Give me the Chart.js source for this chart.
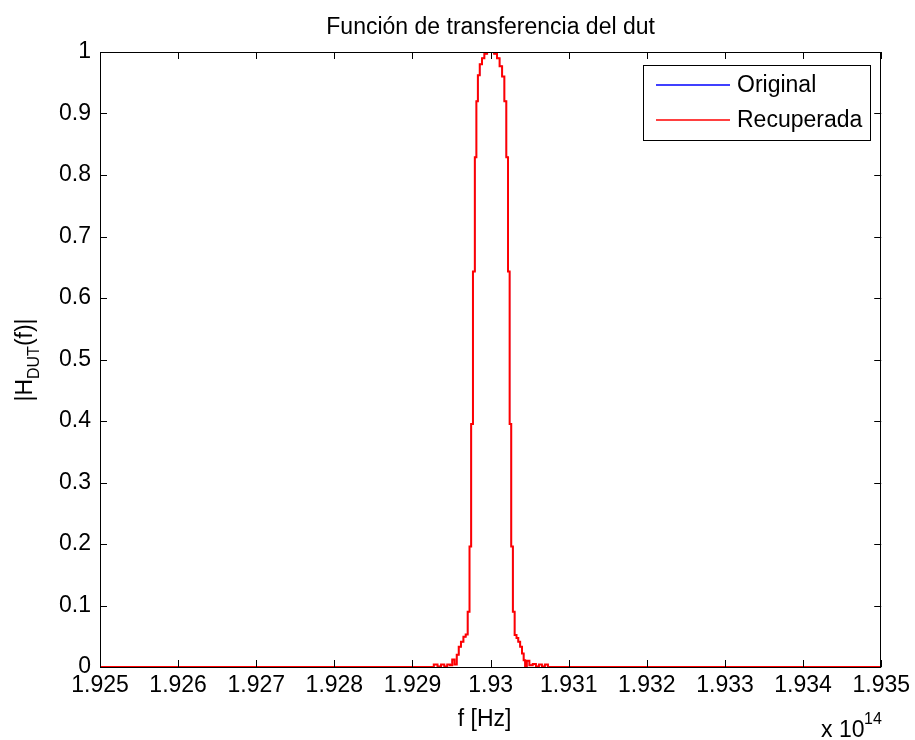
<!DOCTYPE html>
<html>
<head>
<meta charset="utf-8">
<script src="https://cdn.jsdelivr.net/npm/chart.js@4.4.1/dist/chart.umd.min.js"></script>
<style>
  html, body { margin: 0; padding: 0; background: #fff; }
  #wrap { width: 915px; height: 740px; }
</style>
</head>
<body>
<div id="wrap"><canvas id="c" width="915" height="740"></canvas></div>
<script>
// Frequency axis in units of 1e14 Hz
const freq = [
  1.925, 1.929247, 1.929298, 1.929343, 1.929388, 1.929426, 1.929464, 1.929496,
  1.929522, 1.929554, 1.929579, 1.929605, 1.929636, 1.929668, 1.929694, 1.929719,
  1.929741, 1.929761, 1.929787, 1.929809, 1.929827, 1.929847, 1.929875, 1.929904,
  1.929936, 1.929974, 1.930026, 1.930064, 1.930099, 1.930131, 1.930163, 1.930189,
  1.930213, 1.930233, 1.930254, 1.930274, 1.930296, 1.930319, 1.930344, 1.930364,
  1.930392, 1.930412, 1.930434, 1.930450, 1.930476, 1.930517, 1.930561, 1.930599,
  1.930638, 1.930676, 1.930714, 1.930753, 1.935
];

// |H_DUT(f)| of the reference device
const original = [
  0, 0, 0.004, 0.001, 0.004, 0.001, 0.004, 0.003,
  0.012, 0.004, 0.020, 0.033, 0.041, 0.049, 0.053, 0.090,
  0.196, 0.395, 0.643, 0.829, 0.920, 0.962, 0.980, 0.990,
  0.997, 1.000, 1.000, 0.997, 0.990, 0.977, 0.960, 0.920,
  0.829, 0.643, 0.395, 0.196, 0.090, 0.052, 0.047, 0.041,
  0.033, 0.022, 0.011, 0, 0.010, 0.003, 0.005, 0.001,
  0.004, 0.001, 0.004, 0, 0
];

// |H_DUT(f)| recovered from the measurement
const recuperada = [
  0, 0, 0.004, 0.001, 0.004, 0.001, 0.004, 0.003,
  0.012, 0.004, 0.020, 0.033, 0.041, 0.049, 0.053, 0.090,
  0.196, 0.395, 0.643, 0.829, 0.920, 0.962, 0.980, 0.990,
  0.997, 1.000, 1.000, 0.997, 0.990, 0.977, 0.960, 0.920,
  0.829, 0.643, 0.395, 0.196, 0.090, 0.052, 0.047, 0.041,
  0.033, 0.022, 0.011, 0, 0.010, 0.003, 0.005, 0.001,
  0.004, 0.001, 0.004, 0, 0
];

const xTicks = [1.925, 1.926, 1.927, 1.928, 1.929, 1.93, 1.931, 1.932, 1.933, 1.934, 1.935];
const xTickLabels = ['1.925', '1.926', '1.927', '1.928', '1.929', '1.93', '1.931', '1.932', '1.933', '1.934', '1.935'];
const yTicks = [0, 0.1, 0.2, 0.3, 0.4, 0.5, 0.6, 0.7, 0.8, 0.9, 1];
const yTickLabels = ['0', '0.1', '0.2', '0.3', '0.4', '0.5', '0.6', '0.7', '0.8', '0.9', '1'];

const seriesNames = ['Original', 'Recuperada'];
const seriesColors = ['#0000ff', '#ff0000'];

const FONT = '"Liberation Sans", Arial, Helvetica, sans-serif';
const FS = 23;
const FS_SMALL = 16;

function pts(ys) { return freq.map((f, i) => ({ x: f, y: ys[i] })); }

// Box, inward tick marks, title, axis labels and legend
const matlabFrame = {
  id: 'matlabFrame',
  afterDatasetsDraw(chart) {
    const { ctx, chartArea: a, scales } = chart;
    const xs = scales.x, ys = scales.y;
    ctx.save();
    ctx.strokeStyle = '#000';
    ctx.lineWidth = 1;
    ctx.strokeRect(Math.round(a.left) + 0.5, Math.round(a.top) + 0.5,
                   Math.round(a.right - a.left) - 1, Math.round(a.bottom - a.top));
    const tl = 7;
    ctx.beginPath();
    xTicks.forEach(v => {
      const px = Math.round(xs.getPixelForValue(v)) + 0.5;
      ctx.moveTo(px, a.bottom); ctx.lineTo(px, a.bottom - tl);
      ctx.moveTo(px, a.top); ctx.lineTo(px, a.top + tl);
    });
    yTicks.forEach(v => {
      const py = Math.round(ys.getPixelForValue(v)) + 0.5;
      ctx.moveTo(a.left, py); ctx.lineTo(a.left + tl, py);
      ctx.moveTo(a.right, py); ctx.lineTo(a.right - tl, py);
    });
    ctx.stroke();

    ctx.fillStyle = '#000';
    ctx.font = FS + 'px ' + FONT;
    ctx.textBaseline = 'middle';

    // title
    ctx.textAlign = 'center';
    ctx.fillText('Función de transferencia del dut', (a.left + a.right) / 2, 28);

    // x label
    ctx.fillText('f [Hz]', (a.left + a.right) / 2 - 6, 720);

    // exponent
    ctx.textAlign = 'left';
    ctx.fillText('x 10', 821, 731);
    ctx.font = FS_SMALL + 'px ' + FONT;
    ctx.fillText('14', 864, 720);

    // y label: |H_DUT(f)|
    ctx.save();
    ctx.translate(26, 360);
    ctx.rotate(-Math.PI / 2);
    const p1 = '|H', sub = 'DUT', p2 = '(f)|';
    ctx.font = FS + 'px ' + FONT;
    const w1 = ctx.measureText(p1).width, w3 = ctx.measureText(p2).width;
    ctx.font = FS_SMALL + 'px ' + FONT;
    const w2 = ctx.measureText(sub).width;
    const x0 = -(w1 + w2 + w3) / 2;
    ctx.textAlign = 'left';
    ctx.font = FS + 'px ' + FONT;
    ctx.fillText(p1, x0, 0);
    ctx.font = FS_SMALL + 'px ' + FONT;
    ctx.fillText(sub, x0 + w1, 9);
    ctx.font = FS + 'px ' + FONT;
    ctx.fillText(p2, x0 + w1 + w2, 0);
    ctx.restore();

    // legend
    const lx = 643.5, ly = 65.5, lw = 227, lh = 75;
    ctx.fillStyle = '#fff';
    ctx.fillRect(lx, ly, lw, lh);
    ctx.strokeStyle = '#000';
    ctx.lineWidth = 1;
    ctx.strokeRect(lx, ly, lw, lh);
    const rows = [85, 120];
    ctx.font = FS + 'px ' + FONT;
    ctx.textAlign = 'left';
    ctx.textBaseline = 'middle';
    seriesNames.forEach((name, i) => {
      ctx.strokeStyle = seriesColors[i];
      ctx.lineWidth = 1.5;
      ctx.beginPath();
      ctx.moveTo(656, rows[i]); ctx.lineTo(730, rows[i]);
      ctx.stroke();
      ctx.fillStyle = '#000';
      ctx.fillText(name, 737, rows[i] + 1);
    });
    ctx.restore();
  }
};

new Chart(document.getElementById('c'), {
  type: 'line',
  data: {
    datasets: [
      { label: seriesNames[1], data: pts(recuperada), borderColor: seriesColors[1],
        borderWidth: 2, pointRadius: 0, stepped: 'middle', order: 1 },
      { label: seriesNames[0], data: pts(original), borderColor: seriesColors[0],
        borderWidth: 1, pointRadius: 0, stepped: 'middle', order: 2 }
    ]
  },
  options: {
    responsive: false,
    animation: false,
    events: [],
    layout: { padding: { top: 52, right: 31, left: 0, bottom: 0 } },
    plugins: { legend: { display: false }, tooltip: { enabled: false }, title: { display: false } },
    scales: {
      x: {
        type: 'linear', min: 1.925, max: 1.935,
        grid: { display: false, drawTicks: false },
        border: { display: false },
        afterBuildTicks(s) { s.ticks = xTicks.map(v => ({ value: v })); },
        afterFit(s) { s.height = 73; },
        ticks: {
          autoSkip: false, maxRotation: 0, minRotation: 0, padding: 5, color: '#000',
          font: { family: FONT, size: FS },
          callback(v, i) { return xTickLabels[i]; }
        }
      },
      y: {
        type: 'linear', min: 0, max: 1,
        grid: { display: false, drawTicks: false },
        border: { display: false },
        afterBuildTicks(s) { s.ticks = yTicks.map(v => ({ value: v })); },
        afterFit(s) { s.width = 100; },
        ticks: {
          autoSkip: false, padding: 9, color: '#000',
          font: { family: FONT, size: FS },
          callback(v, i) { return yTickLabels[i]; }
        }
      }
    }
  },
  plugins: [matlabFrame]
});
</script>
</body>
</html>
